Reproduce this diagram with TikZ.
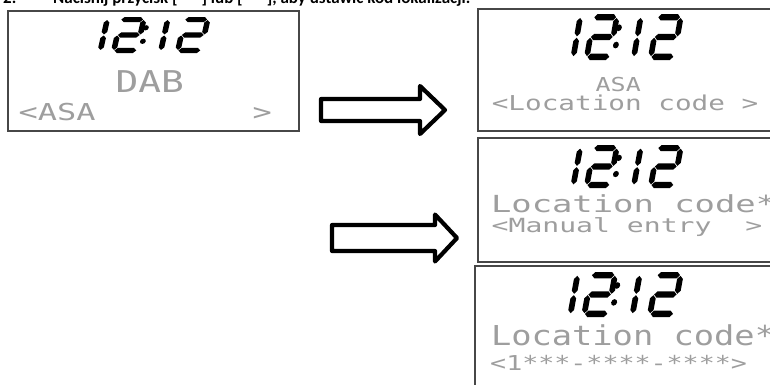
\documentclass[tikz,border=0pt]{standalone}
\usepackage{fontspec}
\usepackage{graphicx}
\setmainfont{Carlito}
\newfontfamily\lcdfont{DejaVu Sans Mono}
\definecolor{lcdgray}{gray}{0.62}
\definecolor{framegray}{gray}{0.28}
\newcommand\lcdt[3]{\fontsize{#1}{#1}\selectfont\scalebox{#2}[1]{#3}}
\newcommand\hseg[3]{\fill (#1+0.6,#3) -- (#1+3.4,#3+2.8) -- (#2-3.4,#3+2.8) -- (#2-0.6,#3) -- (#2-3.4,#3-2.8) -- (#1+3.4,#3-2.8) -- cycle;}
\newcommand\vseg[3]{\fill (#1,#2+0.6) -- (#1+2.8,#2+3.4) -- (#1+2.8,#3-3.4) -- (#1,#3-0.6) -- (#1-2.8,#3-3.4) -- (#1-2.8,#2+3.4) -- cycle;}
\newcommand\digitone[1]{\vseg{#1}{2.8}{20}\vseg{#1}{20}{37.2}}
\newcommand\digittwo[1]{\hseg{#1}{#1+23}{37.2}\vseg{#1+23}{20}{37.2}\hseg{#1}{#1+23}{20}\vseg{#1}{2.8}{20}\hseg{#1}{#1+23}{2.8}}
\newcommand\clock[4]{%
  \pgfmathsetmacro\clkxs{#3/113}\pgfmathsetmacro\clkys{#4/40}%
  \pgfmathsetmacro\clkx{#1-2.7*\clkxs}%
  \begin{scope}[shift={(\clkx,-#2-#4)}, xscale=\clkxs, yscale=\clkys, xslant=0.2]
    \digitone{5.5}
    \digittwo{19}
    \fill (46,13) circle (2.9) (46,28) circle (2.9);
    \digitone{66}
    \digittwo{83}
  \end{scope}}
\tikzset{
  screen/.style={draw=framegray, line width=1.3pt, fill=white, inner sep=0pt, rectangle},
  blockarrow/.style={draw=black, line width=4.2pt, fill=white, line join=round},
  lcd/.style={inner sep=0pt, anchor=base west, text=lcdgray, font=\lcdfont},
  head/.style={inner sep=0pt, anchor=base west, font=\bfseries\fontsize{17}{17}\selectfont}
}
\begin{document}
\begin{tikzpicture}[x=1pt,y=1pt]
\useasboundingbox (0,0) rectangle (770,-384);
\clip (0,0) rectangle (770,-384);
\fill[white] (0,0) rectangle (770,-384);

% header (cut off at the top edge)
\node[head] (hnum) at (3,-3.5) {2.};
\node[head] (htext) at (53,-3.5) {Naciśnij przycisk [\hspace{24pt}] lub [\hspace{24pt}], aby ustawić kod lokalizacji.};

% screens
\node[screen, minimum width=291pt, minimum height=120pt] (s1) at (153.5,-71) {};
\node[screen, minimum width=312pt, minimum height=122pt] (s2) at (634,-70) {};
\node[screen, minimum width=312pt, minimum height=124pt] (s3) at (634,-200) {};
\node[screen, minimum width=315pt, minimum height=138pt] (s4) at (632.5,-335) {};

% clocks
\clock{97}{17}{113}{36}
\clock{570}{14}{113}{46}
\clock{570}{145}{113}{43}
\clock{567}{272}{116}{45}

% screen 1 texts
\node[lcd] (t1a) at (115.3,-92) {\lcdt{30}{1.26}{DAB}};
\node[lcd] (t1b) at (18.5,-120) {\lcdt{23.3}{1.37}{<ASA}};
\node[lcd] (t1c) at (252.4,-120) {\lcdt{23.3}{1.37}{>}};

% screen 2 texts
\node[lcd] (t2a) at (595.5,-91) {\lcdt{19.2}{1.3}{ASA}};
\node[lcd] (t2b) at (491.6,-110.5) {\lcdt{20.5}{1.35}{<Location code >}};

% screen 3 texts
\node[lcd] (t3a) at (490.8,-212) {\lcdt{23.5}{1.44}{Location code*}};
\node[lcd] (t3b) at (491.5,-232) {\lcdt{19.5}{1.44}{<Manual entry\ \ >}};

% screen 4 texts
\node[lcd] (t4a) at (490.8,-345) {\lcdt{27.4}{1.23}{Location code*}};
\node[lcd] (t4b) at (490,-370) {\lcdt{20.5}{1.3}{<1***-****-****>}};

% block arrows
\draw[blockarrow] (321,-99) -- (420,-99) -- (420,-86) -- (445,-110) -- (420,-134) -- (420,-121) -- (321,-121) -- cycle;
\draw[blockarrow] (332,-225) -- (435,-225) -- (435,-214.5) -- (457,-238) -- (435,-261.5) -- (435,-251) -- (332,-251) -- cycle;
\end{tikzpicture}
\end{document}
